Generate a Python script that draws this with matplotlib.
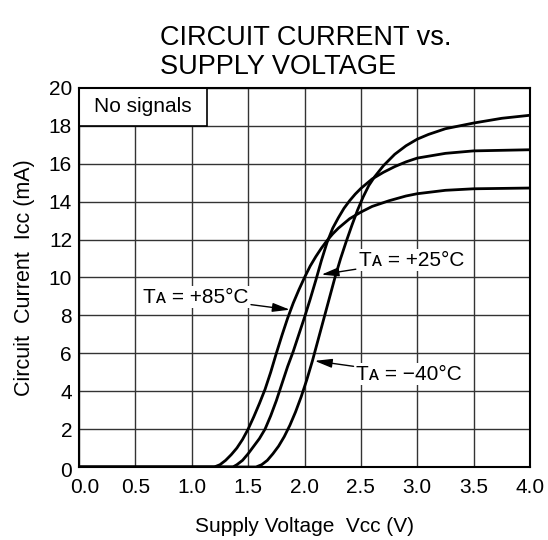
import matplotlib
matplotlib.use('Agg')
import matplotlib.pyplot as plt
from matplotlib.patches import Rectangle
from matplotlib.transforms import ScaledTranslation

plt.rcParams['font.family'] = ['Liberation Sans', 'DejaVu Sans']

# Icc (mA) against Vcc (V) for three ambient temperatures
v_85 = [0.0, 1.20, 1.25, 1.30, 1.35, 1.40, 1.45, 1.50, 1.55, 1.60, 1.65, 1.70,
        1.75, 1.80, 1.85, 1.90, 1.95, 2.00, 2.05, 2.10, 2.15, 2.20, 2.25, 2.30,
        2.40, 2.50, 2.60, 2.75, 2.90, 3.00, 3.25, 3.50, 4.00]
i_85 = [0.0, 0.0, 0.12, 0.35, 0.65, 1.0, 1.45, 2.0, 2.65, 3.35, 4.1, 5.0,
        6.0, 6.95, 7.85, 8.65, 9.35, 10.0, 10.6, 11.1, 11.55, 11.95, 12.3, 12.6,
        13.1, 13.45, 13.75, 14.05, 14.3, 14.42, 14.6, 14.68, 14.72]

v_25 = [0.0, 1.365, 1.40, 1.45, 1.50, 1.55, 1.60, 1.65, 1.70, 1.75, 1.80, 1.85,
        1.90, 1.95, 2.00, 2.05, 2.10, 2.15, 2.20, 2.25, 2.30, 2.35, 2.40, 2.45,
        2.50, 2.60, 2.70, 2.80, 2.90, 3.00, 3.25, 3.50, 4.00]
i_25 = [0.0, 0.0, 0.12, 0.35, 0.7, 1.1, 1.5, 2.0, 2.7, 3.5, 4.4, 5.3,
        6.1, 7.0, 7.9, 8.85, 9.85, 10.9, 11.85, 12.6, 13.15, 13.65, 14.05, 14.4,
        14.7, 15.2, 15.55, 15.85, 16.1, 16.3, 16.55, 16.68, 16.74]

v_m40 = [0.0, 1.57, 1.62, 1.67, 1.72, 1.77, 1.82, 1.87, 1.92, 1.97, 2.02, 2.07,
         2.12, 2.17, 2.22, 2.27, 2.32, 2.37, 2.42, 2.47, 2.52, 2.57, 2.62, 2.70,
         2.80, 2.90, 3.00, 3.10, 3.25, 3.50, 3.75, 4.00]
i_m40 = [0.0, 0.0, 0.12, 0.35, 0.7, 1.1, 1.6, 2.2, 2.9, 3.7, 4.6, 5.6,
         6.7, 7.8, 8.9, 10.0, 11.0, 11.9, 12.75, 13.55, 14.25, 14.85, 15.3, 15.9,
         16.5, 16.95, 17.3, 17.55, 17.85, 18.15, 18.4, 18.56]

x_ticks = [0.0, 0.5, 1.0, 1.5, 2.0, 2.5, 3.0, 3.5, 4.0]
y_ticks = [0, 2, 4, 6, 8, 10, 12, 14, 16, 18, 20]

fig = plt.figure(figsize=(5.48, 5.40), dpi=100)
ax = fig.add_axes([0.1442, 0.1352, 0.823, 0.7019])

ax.set_xlim(0, 4)
ax.set_ylim(0, 20)
ax.set_xticks(x_ticks)
ax.set_xticklabels(['%.1f' % t for t in x_ticks])
ax.set_yticks(y_ticks)
ax.tick_params(length=0, labelsize=15, colors='black')
ax.tick_params(axis='x', pad=8)
ax.tick_params(axis='y', pad=5)
ax.grid(True, color='#333333', lw=1.0)
ax.set_axisbelow(True)
for s in ax.spines.values():
    s.set_linewidth(1.5)
    s.set_color('black')

# nudge the shared-corner zeros apart
lbl = ax.get_xticklabels()[0]
lbl.set_transform(lbl.get_transform() + ScaledTranslation(6/100, 0, fig.dpi_scale_trans))
lbl = ax.get_yticklabels()[0]
lbl.set_transform(lbl.get_transform() + ScaledTranslation(0, -3/100, fig.dpi_scale_trans))

for v, i in [(v_85, i_85), (v_25, i_25), (v_m40, i_m40)]:
    ax.plot(v, i, color='black', lw=2.0, solid_joinstyle='round', zorder=3)

# "No signals" box in the top-left cell
ax.add_patch(Rectangle((0, 18), 1.135, 2, facecolor='white', edgecolor='black',
                       lw=1.2, zorder=2))
ax.text(0.567, 19.0, 'No signals', fontsize=15, ha='center', va='center', zorder=4)

arrow = dict(arrowstyle='-|>,head_length=0.7,head_width=0.18', color='black',
             lw=1.0, shrinkA=1, shrinkB=0)
box = dict(facecolor='white', edgecolor='none', pad=1)
ax.annotate('Tᴀ = +85°C', xy=(1.87, 8.3), xytext=(1.50, 8.95),
            fontsize=15, ha='right', va='center', bbox=box, arrowprops=arrow, zorder=4)
ax.annotate('Tᴀ = +25°C', xy=(2.15, 10.15), xytext=(2.48, 10.9),
            fontsize=15, ha='left', va='center', bbox=box, arrowprops=arrow, zorder=4)
ax.annotate('Tᴀ = −40°C', xy=(2.09, 5.6), xytext=(2.46, 4.9),
            fontsize=15, ha='left', va='center', bbox=box, arrowprops=arrow, zorder=4)

ax.set_xlabel('Supply Voltage  Vᴄᴄ (V)', fontsize=15, labelpad=14)
ax.set_ylabel('Circuit  Current  Iᴄᴄ (mA)', fontsize=15.5, labelpad=10)

fig.text(0.292, 0.903, 'CIRCUIT CURRENT vs.\nSUPPLY VOLTAGE', fontsize=19.5,
         ha='left', va='center', linespacing=1.15)

fig.savefig('out.png', dpi=100)
